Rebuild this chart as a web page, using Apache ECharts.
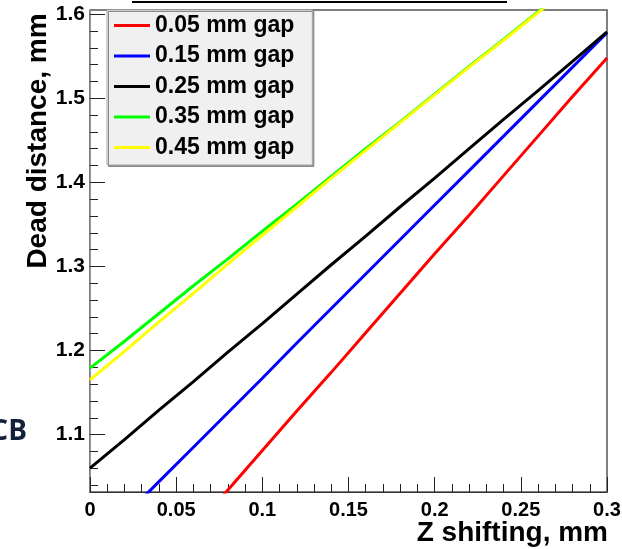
<!DOCTYPE html>
<html>
<head>
<meta charset="utf-8">
<script src="https://cdn.jsdelivr.net/npm/echarts@6/dist/echarts.min.js"></script>
<style>
  html, body { margin: 0; padding: 0; background: #fff; }
  #chart { width: 622px; height: 549px; }
</style>
</head>
<body>
<div id="chart"></div>
<script>
// Z shifting (mm) sample positions
const zShift = [0, 0.02, 0.04, 0.06, 0.08, 0.1, 0.12, 0.14, 0.16, 0.18, 0.2, 0.22, 0.24, 0.26, 0.28, 0.3];

// dead distance (mm) per gap
const gap005 = [null, null, null, 0.988, 1.034, 1.081, 1.128, 1.174, 1.221, 1.268, 1.315, 1.361, 1.408, 1.455, 1.502, 1.548];
const gap015 = [null, 1.003, 1.044, 1.085, 1.126, 1.167, 1.209, 1.250, 1.291, 1.332, 1.373, 1.414, 1.455, 1.496, 1.537, 1.578];
const gap025 = [1.060, 1.094, 1.129, 1.163, 1.198, 1.232, 1.267, 1.302, 1.336, 1.371, 1.405, 1.440, 1.475, 1.509, 1.544, 1.579];
const gap035 = [1.179, 1.211, 1.244, 1.277, 1.309, 1.342, 1.374, 1.407, 1.440, 1.472, 1.505, 1.538, 1.570, 1.603, 1.636, 1.668];
const gap045 = [1.165, 1.199, 1.234, 1.268, 1.303, 1.337, 1.371, 1.405, 1.438, 1.471, 1.504, 1.537, 1.569, 1.602, 1.635, 1.667];

const seriesNames = ['0.05 mm gap', '0.15 mm gap', '0.25 mm gap', '0.35 mm gap', '0.45 mm gap'];
const seriesColors = ['#ff0000', '#0000ff', '#000000', '#00ff00', '#ffff00'];

// y axis tick values
const yMajorTicks = [1.1, 1.2, 1.3, 1.4, 1.5, 1.6];
const yMinorTicks = [1.04, 1.06, 1.08, 1.12, 1.14, 1.16, 1.18, 1.22, 1.24, 1.26, 1.28,
  1.32, 1.34, 1.36, 1.38, 1.42, 1.44, 1.46, 1.48, 1.52, 1.54, 1.56, 1.58];

const yMin = 1.0317;
const yMax = 1.605;

const chart = echarts.init(document.getElementById('chart'));

const allData = [gap005, gap015, gap025, gap035, gap045];
const seriesList = allData.map((vals, i) => ({
    name: seriesNames[i],
    type: 'line',
    yAxisIndex: 0,
    showSymbol: false,
    symbol: 'none',
    clip: true,
    color: seriesColors[i],
    lineStyle: { width: 3, color: seriesColors[i] },
    data: zShift.map((x, j) => [x, vals[j]])
}));

const font = '"Liberation Sans", Arial, sans-serif';

const option = {
    animation: false,
    backgroundColor: '#fff',
    grid: {
        left: 90,
        right: 15,
        top: 10,
        bottom: 57,
        outerBoundsMode: 'none',
        containLabel: false,
        show: true,
        borderColor: '#555',
        borderWidth: 1.5,
        backgroundColor: 'transparent'
    },
    legend: {
        orient: 'vertical',
        left: 107,
        top: 10,
        padding: [4, 18, 6, 7],
        itemGap: 7.5,
        itemWidth: 36,
        itemHeight: 3,
        icon: 'rect',
        selectedMode: false,
        backgroundColor: '#f0f0f0',
        borderColor: '#aaa',
        borderWidth: 1,
        shadowColor: '#888',
        shadowOffsetX: 1.5,
        shadowOffsetY: 1.5,
        shadowBlur: 0,
        textStyle: {
            color: '#000',
            fontFamily: font,
            fontWeight: 'bold',
            fontSize: 23,
            lineHeight: 22
        },
        data: seriesNames
    },
    xAxis: {
        type: 'value',
        min: 0,
        max: 0.3,
        interval: 0.05,
        axisLine: { show: true, lineStyle: { color: '#333', width: 1 } },
        axisTick: { show: true, inside: true, length: 15, lineStyle: { color: '#222', width: 1 } },
        minorTick: { show: true, splitNumber: 5, length: 8, lineStyle: { color: '#222', width: 1 } },
        axisLabel: {
            color: '#000',
            fontFamily: font,
            fontWeight: 'bold',
            fontSize: 20,
            margin: 8
        },
        splitLine: { show: false },
        minorSplitLine: { show: false }
    },
    yAxis: [
        {
            type: 'value',
            min: yMin,
            max: yMax,
            axisLine: { show: true, lineStyle: { color: '#999', width: 1 } },
            axisTick: {
                show: true,
                inside: true,
                length: 15,
                customValues: yMajorTicks,
                lineStyle: { color: '#222', width: 1 }
            },
            axisLabel: {
                color: '#000',
                fontFamily: font,
                fontWeight: 'bold',
                fontSize: 21,
                margin: 5,
                customValues: yMajorTicks
            },
            splitLine: { show: false }
        },
        {
            type: 'value',
            min: yMin,
            max: yMax,
            position: 'left',
            axisLine: { show: false },
            axisTick: {
                show: true,
                inside: true,
                length: 8,
                customValues: yMinorTicks,
                lineStyle: { color: '#222', width: 1 }
            },
            axisLabel: { show: false },
            splitLine: { show: false }
        }
    ],
    graphic: [
        {
            type: 'text',
            x: 38,
            y: 141,
            rotation: Math.PI / 2,
            style: {
                text: 'Dead distance, mm',
                fill: '#000',
                font: 'bold 28px "Liberation Sans", Arial, sans-serif',
                align: 'center',
                verticalAlign: 'middle'
            }
        },
        {
            type: 'text',
            x: 608,
            y: 533,
            style: {
                text: 'Z shifting, mm',
                fill: '#000',
                font: 'bold 28px "Liberation Sans", Arial, sans-serif',
                align: 'right',
                verticalAlign: 'middle'
            }
        },
        {
            type: 'line',
            shape: { x1: 132, y1: 2, x2: 507, y2: 2 },
            style: { stroke: '#000', lineWidth: 2 }
        },
        {
            type: 'text',
            x: 27,
            y: 432,
            style: {
                text: 'CB',
                fill: '#15203a',
                font: 'bold 28px "Open Sans", "Noto Sans", sans-serif',
                align: 'right',
                verticalAlign: 'middle'
            }
        }
    ],
    series: seriesList
};

chart.setOption(option);
</script>
</body>
</html>
